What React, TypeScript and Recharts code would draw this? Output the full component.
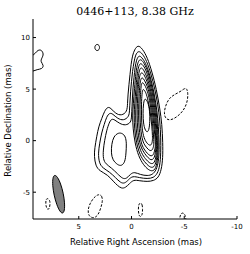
import { ScatterChart, Scatter, XAxis, YAxis } from 'recharts';

type Pt = [number, number];

// contour outlines as [relative RA, relative Dec] in mas
const core1: Pt[] = [
  [-0.61, 9.3], [-0.28, 8.82], [-0.09, 8.25], [0.05, 7.38], [0.14, 6.43], [0.24, 5.47],
  [0.33, 4.52], [0.38, 3.56], [0.42, 2.8], [0.94, 2.42], [1.51, 2.61], [1.98, 3.18],
  [2.26, 3.28], [2.55, 2.89], [2.83, 2.13], [3.11, 1.37], [3.3, 0.41], [3.49, -0.74],
  [3.54, -1.5], [3.4, -2.46], [3.02, -2.94], [2.26, -3.31], [1.7, -3.98], [1.32, -4.36],
  [0.94, -4.65], [0.57, -4.56], [0.19, -4.17], [-0.19, -3.79], [-0.75, -3.89], [-1.51, -3.98],
  [-2.08, -3.89], [-2.55, -3.6], [-2.83, -2.84], [-2.97, -1.69], [-2.97, -0.26], [-2.88, 1.65],
  [-2.69, 3.08], [-2.36, 5.0], [-1.93, 6.71], [-1.51, 8.05], [-1.04, 8.91],
];
const core2: Pt[] = [
  [-0.66, 8.75], [-0.38, 8.34], [-0.24, 7.67], [-0.09, 6.71], [0, 5.76], [0.09, 4.8],
  [0.14, 3.85], [0.19, 2.89], [0.24, 2.32], [0.75, 1.94], [1.32, 2.13], [1.79, 2.61],
  [2.08, 2.7], [2.36, 2.32], [2.59, 1.56], [2.83, 0.79], [3.02, -0.26], [3.16, -1.21],
  [3.07, -2.17], [2.74, -2.65], [2.08, -3.03], [1.51, -3.6], [1.04, -4.08], [0.66, -4.17],
  [0.28, -3.79], [-0.09, -3.41], [-0.75, -3.6], [-1.51, -3.7], [-2.08, -3.6], [-2.45, -3.22],
  [-2.69, -2.45], [-2.78, -1.21], [-2.78, 0.22], [-2.69, 1.94], [-2.5, 3.47], [-2.22, 5.0],
  [-1.84, 6.52], [-1.42, 7.77], [-1.04, 8.43],
];
const core3: Pt[] = [
  [-0.71, 8.3], [-0.47, 7.86], [-0.33, 7.09], [-0.24, 6.14], [-0.14, 5.19], [-0.09, 4.23],
  [-0.05, 3.28], [0, 2.32], [0.05, 1.75], [0.57, 1.46], [1.13, 1.65], [1.6, 2.03],
  [1.89, 2.13], [2.12, 1.75], [2.36, 0.98], [2.55, 0.03], [2.69, -0.93], [2.69, -1.79],
  [2.45, -2.26], [1.89, -2.65], [1.32, -3.22], [0.85, -3.7], [0.47, -3.7], [0.09, -3.22],
  [-0.28, -3.03], [-0.85, -3.31], [-1.51, -3.41], [-1.98, -3.31], [-2.36, -2.84], [-2.55, -2.07],
  [-2.64, -0.93], [-2.59, 0.6], [-2.5, 2.13], [-2.31, 3.66], [-2.03, 5.19], [-1.7, 6.52],
  [-1.32, 7.57], [-0.99, 8.05],
];
const knot: Pt[] = [
  [1.23, 0.79], [1.7, 0.41], [1.89, -0.36], [1.93, -1.21], [1.79, -1.88], [1.32, -2.36],
  [0.94, -2.46], [0.61, -2.07], [0.52, -1.21], [0.47, -0.26], [0.57, 0.41], [0.85, 0.7],
];
const jet4: Pt[] = [
  [-0.75, 7.9], [-0.57, 7.48], [-0.42, 6.71], [-0.28, 5.0], [-0.17, 3.56], [-0.09, 2.42],
  [-0.14, 1.17], [-0.33, -0.26], [-0.66, -1.5], [-1.13, -2.36], [-1.6, -2.84], [-1.98, -2.98],
  [-2.31, -2.74], [-2.5, -1.69], [-2.55, -0.26], [-2.41, 2.42], [-2.17, 4.04], [-1.98, 5.0],
  [-1.65, 6.43], [-1.27, 7.38], [-0.99, 7.81],
];
const jet5: Pt[] = [
  [-0.8, 7.52], [-0.64, 7.1], [-0.52, 6.33], [-0.41, 5.0], [-0.3, 3.56], [-0.24, 2.42],
  [-0.28, 1.17], [-0.47, -0.26], [-0.8, -1.4], [-1.23, -2.07], [-1.65, -2.5], [-1.98, -2.65],
  [-2.26, -2.41], [-2.43, -1.5], [-2.48, -0.26], [-2.31, 2.42], [-2.08, 4.04], [-1.89, 5.0],
  [-1.58, 6.24], [-1.26, 7.1], [-0.99, 7.43],
];
const jet6: Pt[] = [
  [-0.85, 7.1], [-0.71, 6.71], [-0.61, 5.95], [-0.52, 5.0], [-0.42, 3.56], [-0.38, 2.42],
  [-0.42, 1.17], [-0.61, -0.26], [-0.94, -1.21], [-1.32, -1.79], [-1.7, -2.17], [-1.98, -2.27],
  [-2.22, -2.07], [-2.36, -1.31], [-2.42, -0.26], [-2.22, 2.42], [-1.98, 4.04], [-1.79, 5.0],
  [-1.51, 6.05], [-1.23, 6.71], [-1.04, 7.02],
];
const jet7: Pt[] = [
  [-0.9, 6.62], [-0.75, 6.24], [-0.68, 5.57], [-0.63, 5.0], [-0.55, 3.56], [-0.52, 2.42],
  [-0.57, 1.17], [-0.75, -0.26], [-1.08, -1.02], [-1.42, -1.5], [-1.75, -1.83], [-1.93, -1.88],
  [-2.17, -1.69], [-2.29, -1.02], [-2.36, -0.26], [-2.12, 2.42], [-1.89, 4.04], [-1.7, 5.0],
  [-1.46, 5.76], [-1.23, 6.33], [-1.07, 6.54],
];
const jet8: Pt[] = [
  [-0.94, 6.14], [-0.83, 5.76], [-0.75, 5.0], [-0.68, 3.56], [-0.66, 2.42], [-0.71, 1.17],
  [-0.9, -0.26], [-1.18, -0.83], [-1.51, -1.26], [-1.75, -1.45], [-1.93, -1.5], [-2.12, -1.31],
  [-2.24, -0.74], [-2.29, -0.26], [-2.03, 2.42], [-1.79, 4.04], [-1.6, 5.0], [-1.37, 5.57],
  [-1.13, 6.05],
];
const jet9: Pt[] = [
  [-0.99, 5.66], [-0.9, 5.28], [-0.85, 4.52], [-0.8, 3.56], [-0.8, 2.42], [-0.85, 1.17],
  [-1.04, -0.07], [-1.32, -0.54], [-1.6, -0.88], [-1.84, -1.02], [-2.03, -0.83], [-2.17, -0.26],
  [-1.93, 2.42], [-1.7, 4.04], [-1.51, 4.8], [-1.32, 5.28], [-1.13, 5.59],
];
const jet10: Pt[] = [
  [-1.08, 5.03], [-0.99, 4.61], [-0.94, 3.56], [-0.94, 2.42], [-0.99, 1.17], [-1.18, 0.22],
  [-1.46, -0.26], [-1.75, -0.5], [-1.93, -0.35], [-2.03, 0.22], [-1.84, 2.42], [-1.6, 3.75],
  [-1.42, 4.52], [-1.23, 4.9],
];
const jet11: Pt[] = [
  [-1.27, 4.18], [-1.13, 3.66], [-1.08, 2.61], [-1.13, 1.65], [-1.27, 1.08], [-1.46, 0.79],
  [-1.65, 0.98], [-1.75, 1.84], [-1.73, 2.89], [-1.56, 3.75],
];
const edgeBlob: Pt[] = [
  [9.25, 8.24], [8.99, 8.72], [8.58, 8.88], [8.3, 8.4], [8.52, 7.98], [8.63, 7.67],
  [8.3, 7.29], [8.49, 6.95], [8.96, 6.91], [9.34, 6.71], [9.9, 6.71], [9.9, 8.24],
];
const northSpot: Pt[] = [
  [3.25, 9.37], [3.07, 9.25], [3.02, 9.04], [3.07, 8.82], [3.25, 8.7], [3.44, 8.82],
  [3.49, 9.04], [3.44, 9.25],
];

// negative contours
const negWest: Pt[] = [
  [-5.19, 5.23], [-4.72, 4.8], [-4.15, 4.52], [-3.58, 4.14], [-3.25, 3.47], [-3.07, 2.7],
  [-3.21, 2.13], [-3.68, 1.94], [-4.34, 2.32], [-4.91, 2.89], [-5.28, 3.66], [-5.38, 4.61],
];
const negBeamSide: Pt[] = [
  [7.97, -5.58], [7.75, -5.75], [7.71, -6.15], [7.78, -6.56], [7.92, -6.72], [8.08, -6.51],
  [8.14, -6.08], [8.11, -5.7],
];
const negSouth: Pt[] = [
  [3.11, -5.16], [2.78, -5.37], [2.74, -5.89], [2.92, -6.56], [3.16, -7.23], [3.58, -7.56],
  [4.06, -7.33], [4.15, -6.75], [3.96, -6.13], [3.58, -5.51],
];
const negMid: Pt[] = [
  [-0.85, -5.99], [-1.02, -6.18], [-1.06, -6.7], [-1.01, -7.23], [-0.85, -7.42], [-0.69, -7.23],
  [-0.64, -6.7], [-0.67, -6.18],
];
const negEdge: Pt[] = [
  [-4.84, -6.98], [-5.05, -7.12], [-5.14, -7.46], [-5.19, -7.9], [-4.53, -7.9], [-4.58, -7.46],
  [-4.65, -7.12],
];

// restoring beam outline
const beam: Pt[] = [
  [6.52, -7.1], [6.35, -6.8], [6.33, -6.07], [6.46, -5.1], [6.72, -4.16], [7.02, -3.5],
  [7.3, -3.29], [7.47, -3.59], [7.49, -4.32], [7.35, -5.29], [7.09, -6.23], [6.79, -6.89],
];

const positive = [core1, core2, core3, knot, jet4, jet5, jet6, jet7, jet8, jet9, jet10, jet11, edgeBlob, northSpot];
const negative = [negWest, negBeamSide, negSouth, negMid, negEdge];

const raTicks = [5, 0, -5, -10];
const decTicks = [10, 5, 0, -5];
const raDomain: [number, number] = [-10, 9.34];
const decDomain: [number, number] = [-7.6, 11.8];

const toRows = (pts: Pt[]) => pts.map(([x, y]) => ({ x, y }));
const noDot = () => <g />;
const tickFont = { fontSize: 7, fill: '#000', fontFamily: 'DejaVu Sans' };

export default function App() {
  return (
    <div style={{ position: 'absolute', left: 0, top: 0, width: 250, height: 254, background: '#fff' }}>
      <ScatterChart width={250} height={254} margin={{ top: 19, right: 13, bottom: 0, left: 0 }}>
        <XAxis
          type="number"
          dataKey="x"
          domain={raDomain}
          allowDataOverflow
          reversed
          ticks={raTicks}
          height={35}
          tick={tickFont}
          tickSize={-3}
          tickMargin={8}
          stroke="#000"
        />
        <XAxis
          xAxisId="top"
          orientation="top"
          type="number"
          dataKey="x"
          domain={raDomain}
          allowDataOverflow
          reversed
          ticks={raTicks}
          height={0}
          tick={false}
          tickSize={-3}
          stroke="#000"
        />
        <YAxis
          type="number"
          dataKey="y"
          domain={decDomain}
          allowDataOverflow
          ticks={decTicks}
          width={33}
          tick={tickFont}
          tickSize={-3}
          tickMargin={6}
          stroke="#000"
        />
        <YAxis
          yAxisId="right"
          orientation="right"
          type="number"
          dataKey="y"
          domain={decDomain}
          allowDataOverflow
          ticks={decTicks}
          width={0}
          tick={false}
          tickSize={-3}
          stroke="#000"
        />
        <Scatter
          data={toRows(beam)}
          shape={noDot}
          line={{ stroke: '#000', strokeWidth: 1, fill: '#808080' }}
          lineJointType="basisClosed"
          isAnimationActive={false}
        />
        {positive.map((c, i) => (
          <Scatter
            key={'p' + i}
            data={toRows(c)}
            shape={noDot}
            line={{ stroke: '#000', strokeWidth: 1 }}
            lineJointType="basisClosed"
            isAnimationActive={false}
          />
        ))}
        {negative.map((c, i) => (
          <Scatter
            key={'n' + i}
            data={toRows(c)}
            shape={noDot}
            line={{ stroke: '#000', strokeWidth: 1, strokeDasharray: '2.5 1.5' }}
            lineJointType="basisClosed"
            isAnimationActive={false}
          />
        ))}
      </ScatterChart>
      <svg width={250} height={254} style={{ position: 'absolute', left: 0, top: 0, pointerEvents: 'none' }}>
        <text x={135} y={14.5} textAnchor="middle" fontFamily="DejaVu Serif" fontSize={11}>
          0446+113, 8.38 GHz
        </text>
        <text x={136} y={245} textAnchor="middle" fontFamily="DejaVu Sans" fontSize={8.5}>
          Relative Right Ascension (mas)
        </text>
        <text transform="translate(10.5,120.5) rotate(-90)" textAnchor="middle" fontFamily="DejaVu Sans" fontSize={8.5}>
          Relative Declination (mas)
        </text>
      </svg>
    </div>
  );
}
